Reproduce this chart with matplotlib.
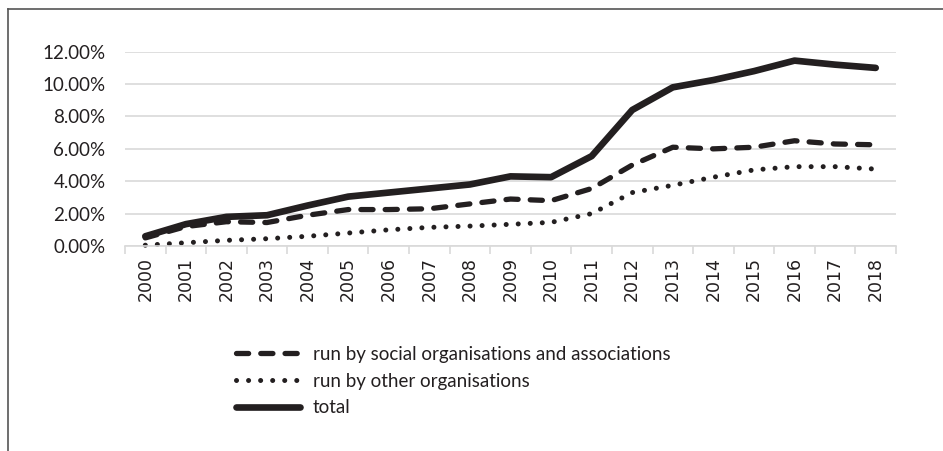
import matplotlib
matplotlib.use("Agg")
import matplotlib.pyplot as plt
from matplotlib.lines import Line2D
from matplotlib.ticker import FuncFormatter

years = [str(y) for y in range(2000, 2019)]
social = [0.5, 1.2, 1.5, 1.45, 1.9, 2.25, 2.25, 2.3, 2.6, 2.9, 2.8, 3.55, 5.0, 6.1, 6.0, 6.1, 6.5, 6.3, 6.25]
other = [0.05, 0.2, 0.35, 0.45, 0.6, 0.8, 1.0, 1.15, 1.23, 1.34, 1.46, 2.0, 3.3, 3.75, 4.25, 4.7, 4.9, 4.9, 4.75]
total = [0.6, 1.35, 1.8, 1.9, 2.5, 3.05, 3.3, 3.55, 3.8, 4.3, 4.25, 5.55, 8.4, 9.8, 10.25, 10.8, 11.45, 11.2, 11.0]

fig = plt.figure(figsize=(9.43, 4.51), dpi=100)
ax = fig.add_axes([125 / 943, 1 - 246 / 451, 771 / 943, 194.3 / 451])

x = range(len(years))
ax.plot(x, social, color="#231f20", lw=3.8, dashes=(2.3, 2.3), dash_capstyle="round",
        label="run by social organisations and associations", clip_on=False)
ax.plot(x, other, color="#231f20", lw=3.6, dashes=(0.01, 2.4), dash_capstyle="round",
        label="run by other organisations", clip_on=False)
ax.plot(x, total, color="#231f20", lw=4.8, solid_capstyle="round", solid_joinstyle="round",
        label="total", clip_on=False)

ax.set_xlim(-0.5, len(years) - 0.5)
ax.set_ylim(0, 12)
ax.set_yticks([0, 2, 4, 6, 8, 10, 12])
ax.yaxis.set_major_formatter(FuncFormatter(lambda v, p: f"{v:.2f}%"))
ax.grid(axis="y", color="#d9d9d9", lw=1.2)
ax.set_axisbelow(True)
for s in ["top", "right", "left"]:
    ax.spines[s].set_visible(False)
ax.spines["bottom"].set_color("#d9d9d9")
ax.spines["bottom"].set_linewidth(1.2)
ax.tick_params(axis="y", length=0, pad=14, labelsize=13.5, labelcolor="#231f20")
for t in ax.get_yticklabels():
    t.set_fontfamily("Lato")

ax.set_xticks([i - 0.5 for i in range(len(years) + 1)], minor=False)
ax.set_xticklabels([])
ax.set_xticks(list(x), minor=True)
ax.set_xticklabels(years, minor=True, rotation=90, fontsize=12.5, color="#231f20")
ax.tick_params(axis="x", which="major", length=6, color="#d9d9d9", width=1.2)
ax.tick_params(axis="x", which="minor", length=0, pad=8)

fig.legend(loc="upper left", bbox_to_anchor=(219 / 943, 1 - 329 / 451), frameon=False,
           handlelength=3.4, handletextpad=0.7, labelspacing=0.52,
           prop={"family": "Lato", "size": 13.5}, labelcolor="#231f20")

fig.add_artist(Line2D([8 / 943, 1], [1 - 9 / 451, 1 - 9 / 451], color="#555555", lw=1.2))
fig.add_artist(Line2D([8 / 943, 8 / 943], [0, 1 - 9 / 451], color="#555555", lw=1.2))

fig.savefig("out.png", dpi=100)
